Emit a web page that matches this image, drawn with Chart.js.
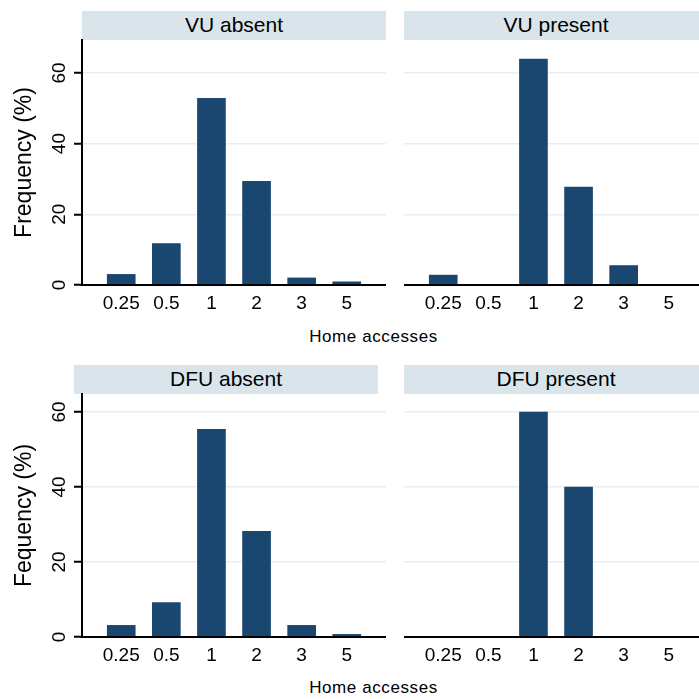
<!DOCTYPE html>
<html>
<head>
<meta charset="utf-8">
<script src="https://cdn.jsdelivr.net/npm/chart.js@4/dist/chart.umd.min.js"></script>
<style>
html,body{margin:0;padding:0;background:#fff;overflow:hidden;}
#wrap{position:relative;width:699px;height:699px;overflow:hidden;background:#fff;font-family:"Liberation Sans",Arial,sans-serif;}
canvas{position:absolute;}
.strip{position:absolute;width:304px;height:29px;background:#d9e5eb;color:#000;font-size:21px;line-height:28px;text-align:center;}
.xt{position:absolute;left:0;width:747px;text-align:center;font-size:17px;line-height:17px;letter-spacing:0.6px;color:#000;}
</style>
</head>
<body>
<div id="wrap">
  <div class="strip" style="left:82px;top:11px;">VU absent</div>
  <div class="strip" style="left:404px;top:11px;">VU present</div>
  <div class="strip" style="left:74px;top:365px;">DFU absent</div>
  <div class="strip" style="left:404px;top:365px;">DFU present</div>
  <canvas id="c1" width="386" height="325" style="left:0;top:0;"></canvas>
  <canvas id="c2" width="304" height="325" style="left:404px;top:0;"></canvas>
  <canvas id="c3" width="386" height="322" style="left:0;top:355px;"></canvas>
  <canvas id="c4" width="304" height="322" style="left:404px;top:355px;"></canvas>
  <div class="xt" style="top:328px;">Home accesses</div>
  <div class="xt" style="top:679px;">Home accesses</div>
</div>
<script>
// ---- data ----
const categories = ['0.25', '0.5', '1', '2', '3', '5'];
const vuAbsent   = [3.0, 11.7, 52.8, 29.3, 2.0, 0.9];
const vuPresent  = [2.8, 0, 63.9, 27.7, 5.5, 0];
const dfuAbsent  = [3.1, 9.2, 55.4, 28.2, 3.1, 0.7];
const dfuPresent = [0, 0, 60.0, 40.0, 0, 0];
const yTickValues = [0, 20, 40, 60];
const yTitleTop = 'Frequency (%)';
const yTitleBottom = 'Fequency (%)';

const FONT = '"Liberation Sans", Arial, sans-serif';
const BAR = '#1a476f';
const GRID = '#e6eef1';

function makeChart(id, values, opts) {
  const data = values.map((v, i) => ({x: i, y: v}));
  return new Chart(document.getElementById(id), {
    type: 'bar',
    data: {
      datasets: [{
        data: data,
        backgroundColor: BAR,
        borderWidth: 0,
        barThickness: 28
      }]
    },
    options: {
      responsive: false,
      animation: false,
      devicePixelRatio: 1,
      layout: {padding: {top: opts.padTop, left: 0, right: 0, bottom: 0}},
      plugins: {legend: {display: false}, tooltip: {enabled: false}},
      scales: {
        x: {
          type: 'linear',
          offset: false,
          min: -0.87,
          max: 5.87,
          afterBuildTicks: s => { s.ticks = categories.map((c, i) => ({value: i})); },
          afterFit: s => { s.height = 40; },
          grid: {display: false, drawTicks: false, offset: false},
          border: {display: true, color: '#000', width: 2, z: 1},
          ticks: {
            callback: v => categories[v],
            font: {family: FONT, size: 19},
            color: '#000',
            padding: 7,
            maxRotation: 0,
            minRotation: 0,
            autoSkip: false
          }
        },
        y: {
          min: 0,
          max: opts.yMax,
          afterBuildTicks: s => { s.ticks = yTickValues.map(v => ({value: v})); },
          afterFit: s => { s.width = opts.left ? 82 : 0; },
          grid: {
            display: true,
            drawTicks: opts.left,
            tickLength: 8,
            tickWidth: 2,
            tickColor: '#000',
            lineWidth: 1.5,
            color: c => (c.tick && c.tick.value === 0) ? 'rgba(0,0,0,0)' : GRID
          },
          border: {display: opts.left, color: '#000', width: 2, z: 1},
          ticks: {
            display: opts.left,
            font: {family: FONT, size: 19},
            color: '#000',
            padding: 4,
            minRotation: 90,
            maxRotation: 90,
            crossAlign: 'center'
          },
          title: {
            display: opts.left,
            text: opts.title || '',
            font: {family: FONT, size: 23},
            color: '#000',
            padding: {top: 11, bottom: 0}
          }
        }
      }
    }
  });
}

makeChart('c1', vuAbsent,   {padTop: 40, yMax: 69.3, left: true,  title: yTitleTop});
makeChart('c2', vuPresent,  {padTop: 40, yMax: 69.3, left: false});
makeChart('c3', dfuAbsent,  {padTop: 39, yMax: 64.8, left: true,  title: yTitleBottom});
makeChart('c4', dfuPresent, {padTop: 39, yMax: 64.8, left: false});
</script>
</body>
</html>
